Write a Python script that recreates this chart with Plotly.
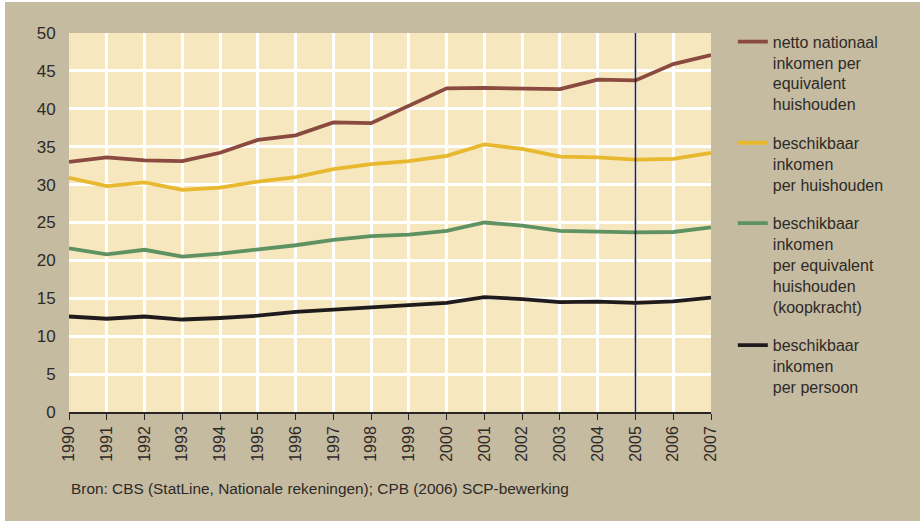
import plotly.graph_objects as go

years = list(range(1990, 2008))

netto_nationaal = [33.0, 33.6, 33.2, 33.1, 34.2, 35.9, 36.5, 38.2, 38.1, 40.4, 42.7, 42.75,
                   42.7, 42.6, 43.85, 43.75, 45.9, 47.1]
beschikbaar_huishouden = [30.9, 29.8, 30.3, 29.3, 29.6, 30.4, 31.0, 32.05, 32.7, 33.1, 33.8, 35.3,
                          34.7, 33.7, 33.6, 33.3, 33.4, 34.2]
beschikbaar_equivalent = [21.6, 20.8, 21.4, 20.5, 20.9, 21.4, 22.0, 22.7, 23.2, 23.4, 23.9, 25.0,
                          24.6, 23.9, 23.8, 23.7, 23.75, 24.35]
beschikbaar_persoon = [12.6, 12.3, 12.6, 12.2, 12.4, 12.7, 13.2, 13.5, 13.9, 14.2, 14.4, 15.15,
                       14.9, 14.5, 14.55, 14.4, 14.6, 15.1]

series_names = [
    "netto nationaal<br>inkomen per<br>equivalent<br>huishouden",
    "beschikbaar<br>inkomen<br>per huishouden",
    "beschikbaar<br>inkomen<br>per equivalent<br>huishouden<br>(koopkracht)",
    "beschikbaar<br>inkomen<br>per persoon",
]
series_values = [netto_nationaal, beschikbaar_huishouden, beschikbaar_equivalent, beschikbaar_persoon]
series_colors = ["#8a4a3f", "#e8b82e", "#5f9262", "#1f1b1c"]

y_ticks = [0, 5, 10, 15, 20, 25, 30, 35, 40, 45, 50]
marker_year = 2005
source_text = "Bron: CBS (StatLine, Nationale rekeningen); CPB (2006) SCP-bewerking"

FONT = "Liberation Sans, Arial, sans-serif"
TXT = "#2e2a27"

fig = go.Figure()
for i, (name, vals, col) in enumerate(zip(series_names, series_values, series_colors)):
    fig.add_trace(go.Scatter(
        x=years, y=vals, mode="lines", name=name,
        line=dict(color=col, width=3.8),
        legendgroup=f"g{i}",
    ))

fig.add_shape(type="line", x0=marker_year, x1=marker_year, xref="x", y0=0, y1=1, yref="paper",
              line=dict(color="#2a2626", width=1.6), layer="above")

fig.add_annotation(text=source_text, xref="paper", yref="paper", x=0, y=-76/379,
                   xanchor="left", yanchor="middle", showarrow=False,
                   font=dict(family=FONT, size=15.4, color=TXT))

fig.update_layout(
    width=915, height=519,
    margin=dict(l=64, r=209, t=31, b=109),
    paper_bgcolor="#c5bba1",
    plot_bgcolor="#f6e7bf",
    font=dict(family=FONT, size=16, color=TXT),
    showlegend=True,
    legend=dict(
        x=1.034, xanchor="left", y=1.022, yanchor="top",
        bgcolor="rgba(0,0,0,0)",
        font=dict(family=FONT, size=16, color=TXT),
        valign="top", tracegroupgap=15, itemwidth=30,
        maxheight=1000,
    ),
    xaxis=dict(
        range=[1990, 2007], tickmode="array", tickvals=years,
        ticktext=[str(y) for y in years], tickangle=-90,
        showgrid=True, gridcolor="white", gridwidth=3,
        showline=True, linecolor="#2a2626", linewidth=1.6,
        ticks="outside", ticklen=6, tickwidth=1.4, tickcolor="#2a2626",
        tickfont=dict(family=FONT, size=16, color=TXT),
        zeroline=False, fixedrange=True,
    ),
    yaxis=dict(
        range=[0, 50], tickmode="array", tickvals=y_ticks,
        showgrid=True, gridcolor="white", gridwidth=3,
        showline=False, zeroline=False,
        ticks="outside", ticklen=9, tickcolor="rgba(0,0,0,0)",
        tickfont=dict(family=FONT, size=17, color=TXT),
        fixedrange=True,
    ),
)

fig.write_html("out.html", post_script="document.body.style.margin='2px 0 0 5px';")
